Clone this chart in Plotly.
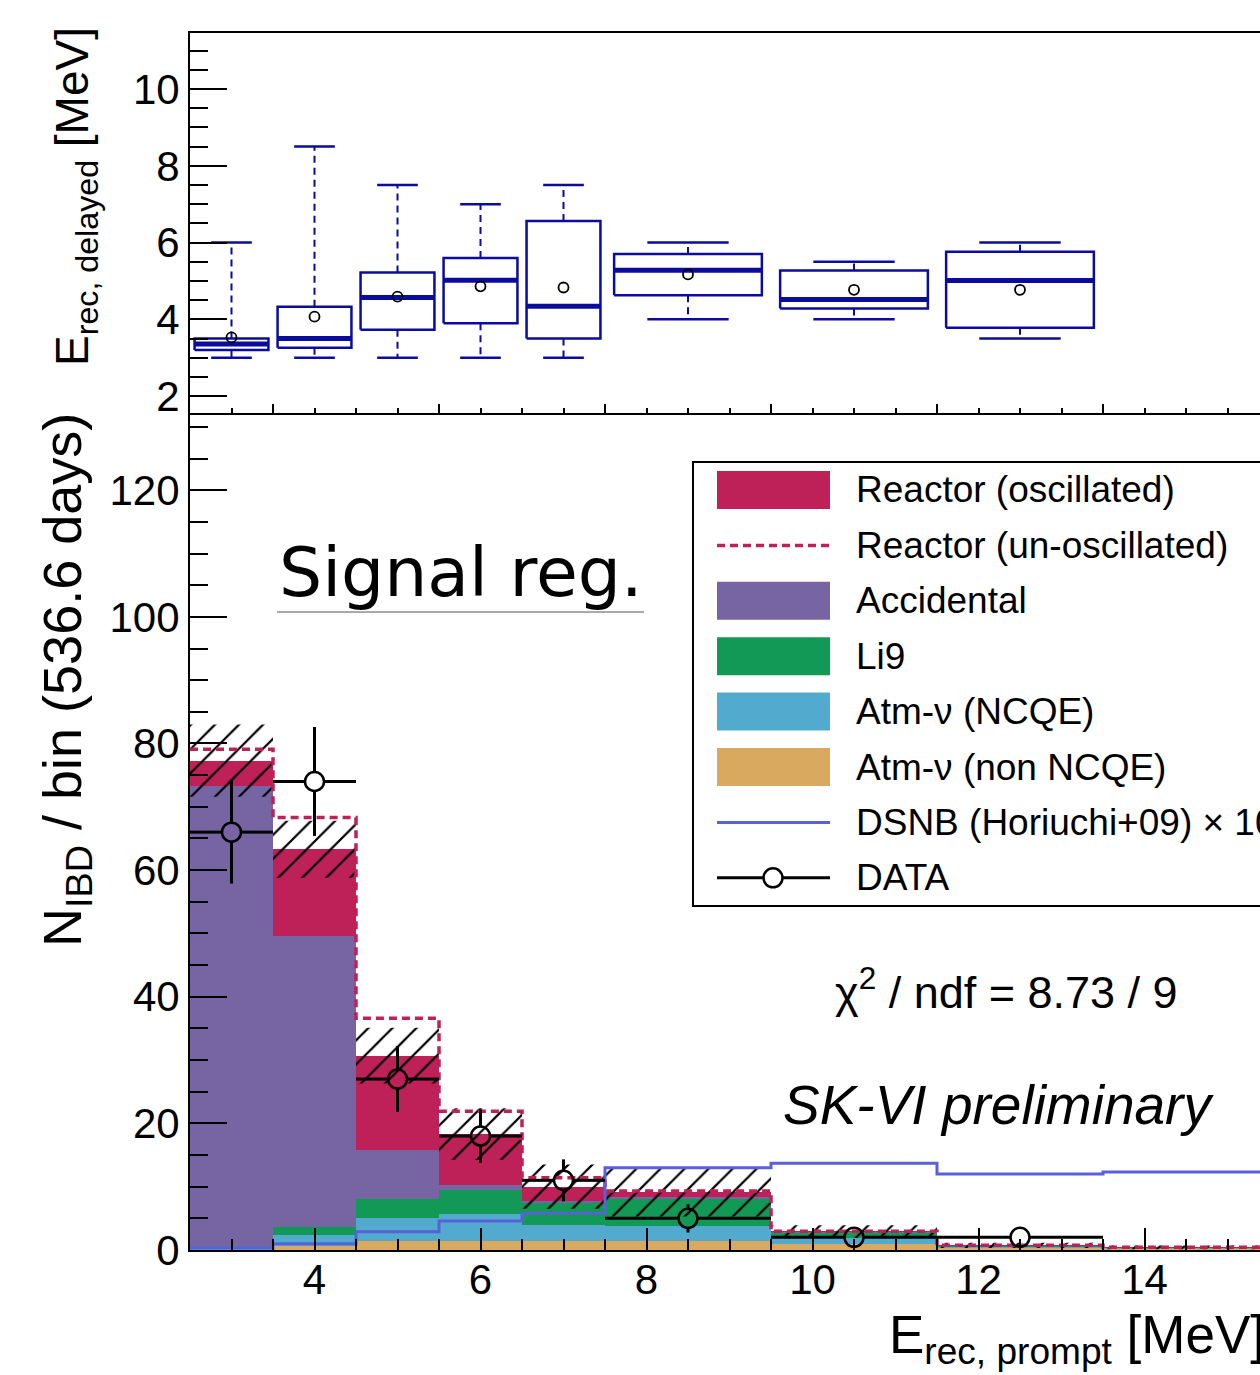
import plotly.graph_objects as go

# ---------------- data ----------------
bin_edges = [2.5, 3.5, 4.5, 5.5, 6.5, 7.5, 9.5, 11.5, 13.5, 15.5]

# stacked background contributions per bin (events / bin)
atm_non_ncqe = [0.15, 0.7, 1.4, 1.5, 1.5, 1.5, 0.9, 0.4, 0.25]
atm_ncqe = [0.2, 1.7, 3.7, 4.2, 2.5, 2.3, 1.0, 0.2, 0.1]
li9 = [0.15, 1.3, 2.9, 3.8, 3.5, 4.4, 0.9, 0.05, 0.02]
accidental = [72.8, 45.9, 7.8, 0.8, 0.3, 0.2, 0.05, 0.03, 0.03]
reactor_osc = [4.0, 13.7, 14.9, 8.0, 2.2, 0.8, 0.05, 0.05, 0.02]
reactor_unosc = [5.8, 18.7, 20.8, 11.6, 3.6, 0.9, 0.1, 0.07, 0.03]
syst_err = [5.7, 4.5, 4.4, 4.1, 3.5, 3.9, 1.0, 0.4, 0.3]
dsnb_x10 = [0.3, 1.0, 2.9, 4.6, 5.8, 13.0, 13.7, 12.0, 12.3]

# observed IBD candidates per bin
data_n = [66, 74, 27, 18, 11, 5, 2, 2, 0]

# delayed-energy distribution per prompt bin (box summary, MeV)
box_upper = [6.0, 8.5, 7.5, 7.0, 7.5, 6.0, 5.5, 6.0]
box_q3 = [3.5, 4.33, 5.22, 5.6, 6.56, 5.7, 5.27, 5.76]
box_median = [3.36, 3.5, 4.57, 5.02, 4.34, 5.28, 4.52, 5.01]
box_q1 = [3.2, 3.26, 3.73, 3.9, 3.5, 4.63, 4.28, 3.78]
box_lower = [3.0, 3.0, 3.0, 3.0, 3.0, 4.0, 4.0, 3.5]
box_mean = [3.53, 4.07, 4.59, 4.86, 4.83, 5.17, 4.77, 4.77]

legend_labels = [
    "Reactor (oscillated)",
    "Reactor (un-oscillated)",
    "Accidental",
    "Li9",
    "Atm-ν (NCQE)",
    "Atm-ν (non NCQE)",
    "DSNB (Horiuchi+09) × 10",
    "DATA",
]

# ---------------- style ----------------
C_REACTOR = "#be2157"
C_ACC = "#7764a3"
C_LI9 = "#129955"
C_NCQE = "#52aace"
C_NONNCQE = "#d9a95f"
C_DSNB = "#5862d6"
C_BOX = "#0b0b9e"
FONT = "Liberation Sans, Arial, sans-serif"

W, H = 1260, 1375
PLOT_L, PLOT_R, PLOT_T, PLOT_B = 190, 1260, 33, 1250
SPLIT = 413  # pixel row separating the two pads
X_RANGE = [2.5, 2.5 + (PLOT_R - PLOT_L) / 83.0]
Y_RANGE = [0, 132.2]
Y2_RANGE = [1.56, 11.46]
split_frac = (PLOT_B - SPLIT) / (PLOT_B - PLOT_T)


def px(x):
    return (x - PLOT_L) / (PLOT_R - PLOT_L)


def py(y):
    return (PLOT_B - y) / (PLOT_B - PLOT_T)


lo = bin_edges[:-1]
hi = bin_edges[1:]
centers = [(a + b) / 2 for a, b in zip(lo, hi)]
widths = [b - a for a, b in zip(lo, hi)]
nb = len(centers)


def cumsum(*arrs):
    out = [0.0] * nb
    for a in arrs:
        out = [o + v for o, v in zip(out, a)]
    return out


def step_xy(vals):
    xs, ys = [], []
    for i in range(nb):
        xs += [lo[i], hi[i]]
        ys += [vals[i], vals[i]]
    return xs, ys


fig = go.Figure()

# ---------------- bottom pad: stacked prediction ----------------
for vals, col in [
    (atm_non_ncqe, C_NONNCQE),
    (atm_ncqe, C_NCQE),
    (li9, C_LI9),
    (accidental, C_ACC),
    (reactor_osc, C_REACTOR),
]:
    fig.add_trace(go.Bar(
        x=centers, y=vals, width=widths, marker=dict(color=col, line=dict(width=0)),
        xaxis="x", yaxis="y", showlegend=False, hoverinfo="skip",
    ))

total_osc = cumsum(atm_non_ncqe, atm_ncqe, li9, accidental, reactor_osc)
total_unosc = cumsum(atm_non_ncqe, atm_ncqe, li9, accidental, reactor_unosc)

# systematic uncertainty band (hatched)
hx, hy = [], []
for i in range(nb):
    a, b = total_osc[i] - syst_err[i], total_osc[i] + syst_err[i]
    hx += [lo[i], hi[i], hi[i], lo[i], lo[i], None]
    hy += [a, a, b, b, a, None]
fig.add_trace(go.Scatter(
    x=hx, y=hy, mode="lines", fill="toself", line=dict(width=0),
    fillcolor="rgba(0,0,0,0)",
    fillpattern=dict(shape="/", fgcolor="black", fgopacity=1, bgcolor="rgba(0,0,0,0)",
                     size=17, solidity=0.13),
    xaxis="x", yaxis="y", showlegend=False, hoverinfo="skip",
))

# un-oscillated reactor total
ux, uy = step_xy(total_unosc)
fig.add_trace(go.Scatter(
    x=ux, y=uy, mode="lines", line=dict(color=C_REACTOR, width=3.5, dash="8px,5px"),
    xaxis="x", yaxis="y", showlegend=False, hoverinfo="skip",
))

# DSNB expectation (x10)
dx, dy = step_xy(dsnb_x10)
fig.add_trace(go.Scatter(
    x=dx, y=dy, mode="lines", line=dict(color=C_DSNB, width=3),
    xaxis="x", yaxis="y", showlegend=False, hoverinfo="skip",
))

# data with Poisson errors; bars stop at the marker edge
x_ppu = (PLOT_R - PLOT_L) / (X_RANGE[1] - X_RANGE[0])
y_ppu = (PLOT_B - SPLIT) / (Y_RANGE[1] - Y_RANGE[0])
mk_r = 9.5
gx, gy = mk_r / x_ppu, mk_r / y_ppu
ex, ey, mx, my = [], [], [], []
for i in range(nb):
    n = data_n[i]
    if n <= 0:
        continue
    c = centers[i]
    err = n ** 0.5
    mx.append(c)
    my.append(n)
    ex += [lo[i], c - gx, None, c + gx, hi[i], None]
    ey += [n, n, None, n, n, None]
    if err > gy:
        ex += [c, c, None, c, c, None]
        ey += [n - err, n - gy, None, n + gy, n + err, None]
fig.add_trace(go.Scatter(
    x=ex, y=ey, mode="lines", line=dict(color="black", width=3),
    xaxis="x", yaxis="y", showlegend=False, hoverinfo="skip",
))
fig.add_trace(go.Scatter(
    x=mx, y=my, mode="markers",
    marker=dict(symbol="circle-open", size=2 * mk_r, color="black", line=dict(width=2.5)),
    xaxis="x", yaxis="y", showlegend=False, hoverinfo="skip",
))

# ---------------- top pad: delayed energy boxes ----------------
bx, by, medx, medy, wx, wy, capx, capy = [], [], [], [], [], [], [], []
for i in range(len(box_median)):
    c, w = centers[i], widths[i]
    bh, ch = 0.445 * w, 0.245 * w
    bx += [c - bh, c + bh, c + bh, c - bh, c - bh, None]
    by += [box_q1[i], box_q1[i], box_q3[i], box_q3[i], box_q1[i], None]
    medx += [c - bh, c + bh, None]
    medy += [box_median[i], box_median[i], None]
    wx += [c, c, None, c, c, None]
    wy += [box_q3[i], box_upper[i], None, box_q1[i], box_lower[i], None]
    capx += [c - ch, c + ch, None, c - ch, c + ch, None]
    capy += [box_upper[i], box_upper[i], None, box_lower[i], box_lower[i], None]

box_mean_x = centers[:len(box_mean)]
for xs, ys, lw, dash in [
    (wx, wy, 2, "7px,5px"),
    (capx, capy, 2.5, "solid"),
    (bx, by, 2.5, "solid"),
    (medx, medy, 5, "solid"),
]:
    fig.add_trace(go.Scatter(
        x=xs, y=ys, mode="lines", line=dict(color=C_BOX, width=lw, dash=dash),
        xaxis="x2", yaxis="y2", showlegend=False, hoverinfo="skip",
    ))
fig.add_trace(go.Scatter(
    x=box_mean_x, y=box_mean, mode="markers",
    marker=dict(symbol="circle-open", size=10, color="black", line=dict(width=1.8)),
    xaxis="x2", yaxis="y2", showlegend=False, hoverinfo="skip",
))

# ---------------- layout ----------------
axis_common = dict(
    showgrid=False, zeroline=False, showline=True, linecolor="black", linewidth=2,
    ticks="inside", tickcolor="black", tickwidth=2,
    tickfont=dict(family=FONT, size=42, color="black"),
)
fig.update_layout(
    width=W, height=H,
    margin=dict(l=PLOT_L, r=W - PLOT_R, t=PLOT_T, b=H - PLOT_B, pad=0),
    paper_bgcolor="white", plot_bgcolor="white",
    barmode="stack", bargap=0, showlegend=False,
    xaxis=dict(
        domain=[0, 1], anchor="y", range=X_RANGE, tick0=0, dtick=2, ticklen=22,
        ticklabelstandoff=-8,
        minor=dict(ticks="inside", dtick=0.5, ticklen=11, tickwidth=2, tickcolor="black", showgrid=False),
        **axis_common,
    ),
    yaxis=dict(
        domain=[0, split_frac], anchor="x", range=Y_RANGE, tick0=0, dtick=20, ticklen=37,
        minor=dict(ticks="inside", dtick=5, ticklen=18, tickwidth=2, tickcolor="black", showgrid=False),
        **axis_common,
    ),
    xaxis2=dict(
        domain=[0, 1], anchor="y2", range=X_RANGE, tick0=1.5, dtick=2, ticklen=9,
        showticklabels=False, mirror=True,
        minor=dict(ticks="inside", dtick=0.5, ticklen=5, tickwidth=2, tickcolor="black", showgrid=False),
        **axis_common,
    ),
    yaxis2=dict(
        domain=[split_frac, 1], anchor="x2", range=Y2_RANGE, tick0=0, dtick=2, ticklen=37,
        minor=dict(ticks="inside", dtick=0.5, ticklen=18, tickwidth=2, tickcolor="black", showgrid=False),
        **axis_common,
    ),
)

annotations = []
shapes = []


def text(x, y, s, size, xanchor="left", yanchor="middle", family=FONT, angle=0):
    annotations.append(dict(
        xref="paper", yref="paper", x=px(x), y=py(y), text=s, showarrow=False,
        xanchor=xanchor, yanchor=yanchor, textangle=angle,
        font=dict(family=family, size=size, color="black"),
    ))


# axis titles
text(66, 680, "N<sub>IBD</sub> / bin (536.6 days)", 54, xanchor="center", angle=-90)
text(75, 197, "E<sub>rec, delayed</sub> [MeV]", 46, xanchor="center", angle=-90)
text(887, 1338, "E<sub>rec, prompt</sub> [MeV]", 53)

# pad labels
text(277, 572, "Signal reg.", 68, family="DejaVu Sans, sans-serif")
shapes.append(dict(type="line", xref="paper", yref="paper", x0=px(277), x1=px(644),
                   y0=py(612), y1=py(612), line=dict(color="#555555", width=1)))
text(833, 989, "χ<sup>2</sup> / ndf = 8.73 / 9", 45)
text(781, 1105, "<i>SK-VI preliminary</i>", 55)

# legend box
shapes.append(dict(type="rect", xref="paper", yref="paper", x0=px(693), x1=px(1320),
                   y0=py(906), y1=py(462), line=dict(color="black", width=2),
                   fillcolor="white", layer="above"))
rows = [490 + 55.4 * k for k in range(len(legend_labels))]
swatch_fill = {0: C_REACTOR, 2: C_ACC, 3: C_LI9, 4: C_NCQE, 5: C_NONNCQE}
for k, label in enumerate(legend_labels):
    yc = rows[k]
    if k in swatch_fill:
        shapes.append(dict(type="rect", xref="paper", yref="paper", x0=px(717), x1=px(830),
                           y0=py(yc + 19), y1=py(yc - 19), line=dict(width=0),
                           fillcolor=swatch_fill[k], layer="above"))
    elif k == 1:
        shapes.append(dict(type="line", xref="paper", yref="paper", x0=px(717), x1=px(830),
                           y0=py(yc), y1=py(yc), line=dict(color=C_REACTOR, width=3.5, dash="8px,5px"),
                           layer="above"))
    elif k == 6:
        shapes.append(dict(type="line", xref="paper", yref="paper", x0=px(717), x1=px(830),
                           y0=py(yc), y1=py(yc), line=dict(color=C_DSNB, width=3), layer="above"))
    else:
        shapes.append(dict(type="line", xref="paper", yref="paper", x0=px(717), x1=px(830),
                           y0=py(yc), y1=py(yc), line=dict(color="black", width=3), layer="above"))
        shapes.append(dict(type="circle", xref="paper", yref="paper",
                           xsizemode="pixel", ysizemode="pixel",
                           xanchor=px(773), yanchor=py(yc), x0=-9.5, x1=9.5, y0=-9.5, y1=9.5,
                           line=dict(color="black", width=2.5), fillcolor="white", layer="above"))
    text(854, yc, label, 37)

fig.update_layout(annotations=annotations, shapes=shapes)
fig.write_html("out.html")
